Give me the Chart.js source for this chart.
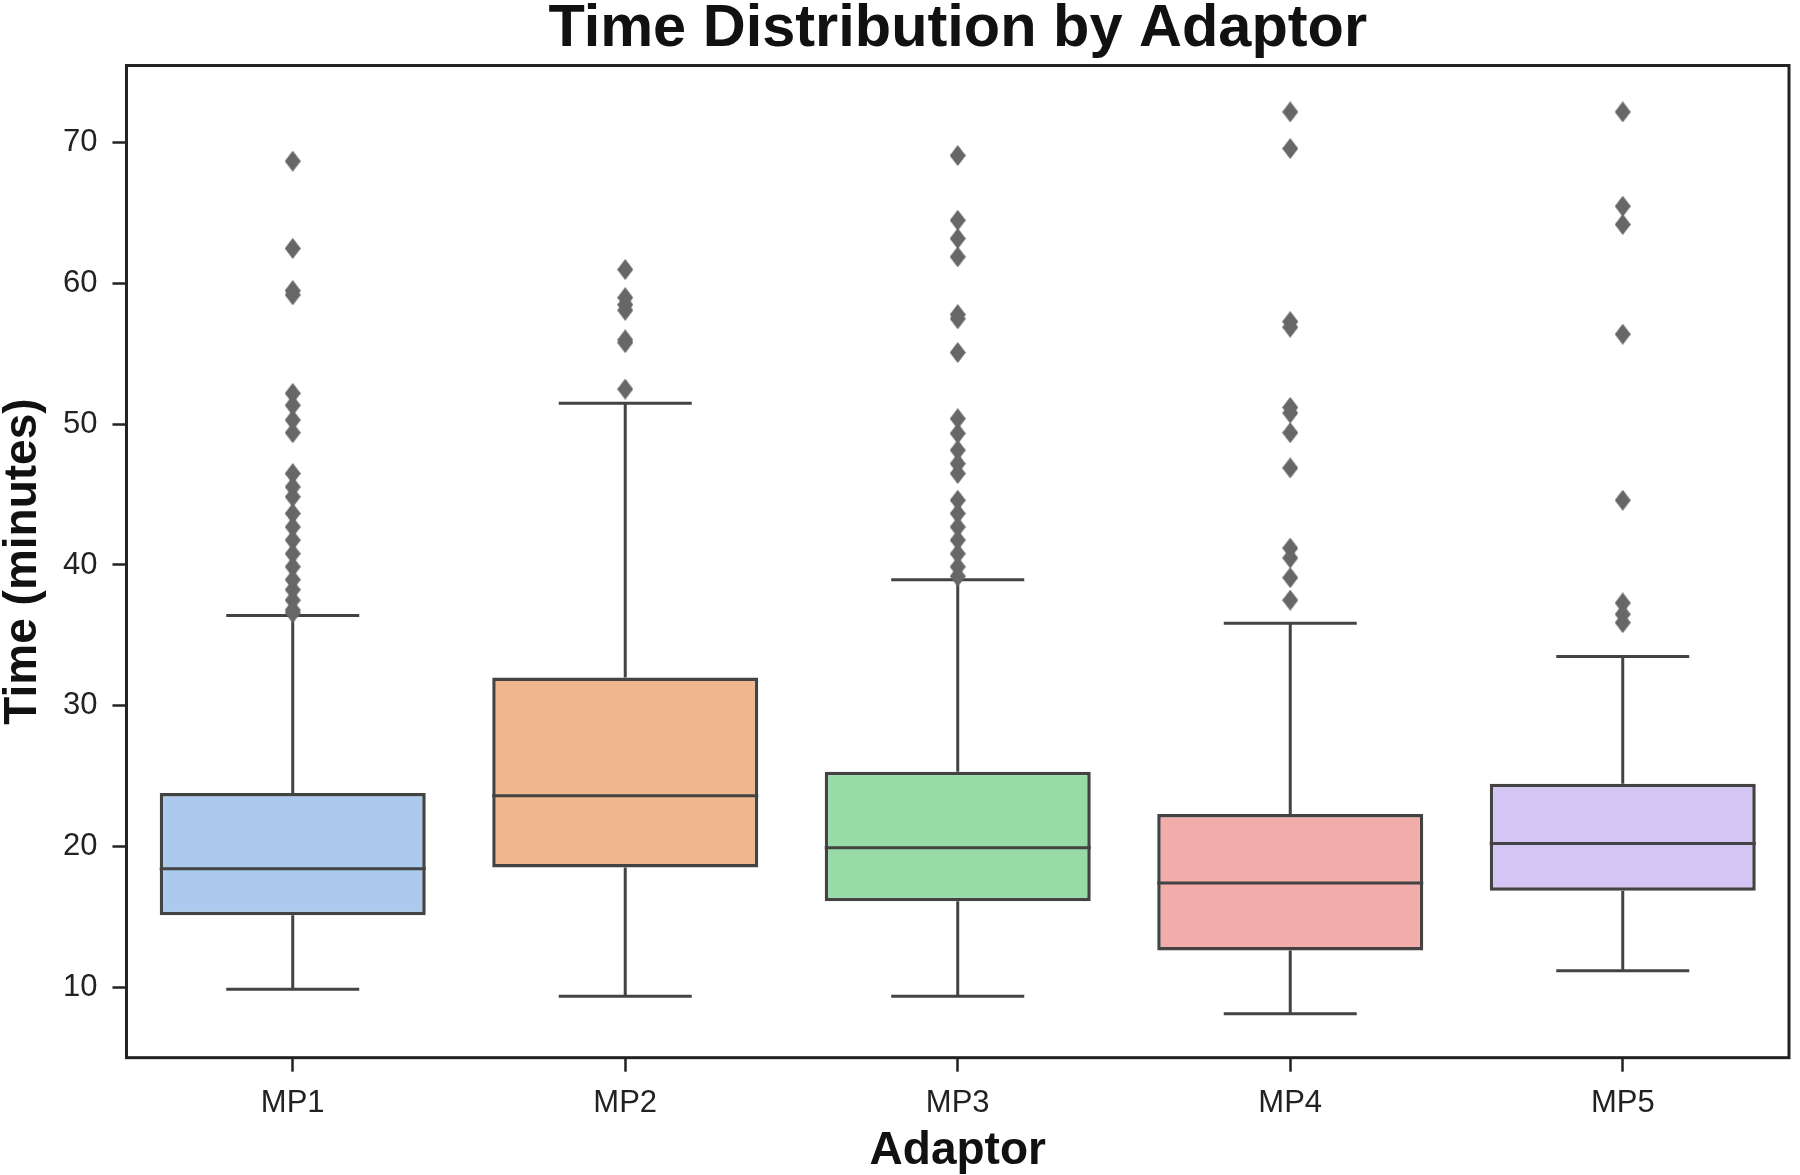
<!DOCTYPE html>
<html>
<head>
<meta charset="utf-8">
<title>Time Distribution by Adaptor</title>
<script src="https://cdn.jsdelivr.net/npm/chart.js@4.4.1/dist/chart.umd.min.js"></script>
<style>
  html, body { margin: 0; padding: 0; background: #fff; }
  canvas { display: block; }
</style>
</head>
<body>
<canvas id="box-chart" width="1800" height="1175"></canvas>
<script>
// ─── Data ─────────────────────────────────────────────────────────────────────
const categories  = ['MP1', 'MP2', 'MP3', 'MP4', 'MP5'];
const whiskerLow  = [9.85, 9.35, 9.35, 8.1, 11.15];
const q1          = [15.1, 18.5, 16.1, 12.6, 16.85];
const median      = [18.4, 23.6, 19.9, 17.4, 20.2];
const q3          = [23.8, 32.0, 25.3, 22.3, 24.45];
const whiskerHigh = [36.4, 51.5, 38.95, 35.85, 33.5];

const outliersMP1 = [68.7, 62.5, 59.5, 59.2, 52.2, 51.35, 50.3, 49.4,
  46.5, 45.55, 44.84, 43.66, 42.7, 41.77, 40.8, 39.87, 38.95, 38.24, 37.5, 36.8, 36.6];
const outliersMP2 = [61.0, 59.0, 58.5, 58.1, 56.0, 55.8, 52.5];
const outliersMP3 = [69.1, 64.5, 63.2, 61.9, 57.8, 57.5, 55.1,
  50.4, 49.35, 48.16, 47.2, 46.5, 44.6, 43.66, 42.7, 41.77, 40.8, 39.87, 39.2];
const outliersMP4 = [72.2, 69.6, 57.3, 56.9, 51.2, 50.8, 49.4, 46.9, 41.2, 40.5, 39.1, 37.5];
const outliersMP5 = [72.2, 65.5, 64.2, 56.4, 44.6, 37.3, 36.5, 35.9];
const outliers    = [outliersMP1, outliersMP2, outliersMP3, outliersMP4, outliersMP5];

const yTicks = [10, 20, 30, 40, 50, 60, 70];
const yMin = 4.98;
const yMax = 75.5;

// ─── Styling ──────────────────────────────────────────────────────────────────
const FONT      = 'Liberation Sans, Arial, Helvetica, sans-serif';
const BOX_FILL  = ['#abcaee', '#f0b78f', '#98dba7', '#f2adab', '#d3c6f5'];
const LINE_GRAY = '#434343';
const AXIS_INK  = '#222222';
const DOT_GRAY  = '#676767';

// thin diamond marker (seaborn 'd') as an image point style
function thinDiamond(w, h, color) {
  const c = document.createElement('canvas');
  c.width = w; c.height = h;
  const g = c.getContext('2d');
  g.fillStyle = color;
  g.beginPath();
  g.moveTo(w / 2, 0);
  g.lineTo(w, h / 2);
  g.lineTo(w / 2, h);
  g.lineTo(0, h / 2);
  g.closePath();
  g.fill();
  return c;
}

// ─── Build datasets from the arrays ──────────────────────────────────────────
const boxData = categories.map((c, i) => ({ x: i, y: [q1[i], q3[i]] }));

// whiskers + caps as one broken line (null y = gap)
const whiskerData = [];
categories.forEach((c, i) => {
  whiskerData.push({ x: i, y: whiskerLow[i] }, { x: i, y: q1[i] }, { x: i, y: null });
  whiskerData.push({ x: i, y: q3[i] }, { x: i, y: whiskerHigh[i] }, { x: i, y: null });
  whiskerData.push({ x: i - 0.2, y: whiskerLow[i] }, { x: i + 0.2, y: whiskerLow[i] }, { x: i, y: null });
  whiskerData.push({ x: i - 0.2, y: whiskerHigh[i] }, { x: i + 0.2, y: whiskerHigh[i] }, { x: i, y: null });
});

const medianData = [];
categories.forEach((c, i) => {
  medianData.push({ x: i - 0.4, y: median[i] }, { x: i + 0.4, y: median[i] }, { x: i, y: null });
});

const outlierData = [];
outliers.forEach((list, i) => list.forEach(v => outlierData.push({ x: i, y: v })));

// frame around the plot area (matplotlib-style spines)
const framePlugin = {
  id: 'frame',
  afterDraw(chart) {
    const { ctx, chartArea: a } = chart;
    ctx.save();
    ctx.strokeStyle = AXIS_INK;
    ctx.lineWidth = 3;
    ctx.strokeRect(a.left, a.top, a.right - a.left, a.bottom - a.top);
    ctx.restore();
  }
};

// ─── Chart ───────────────────────────────────────────────────────────────────
new Chart(document.getElementById('box-chart'), {
  type: 'bar',
  data: {
    datasets: [
      {
        type: 'scatter',
        data: outlierData,
        order: 1,
        pointStyle: thinDiamond(16, 21, DOT_GRAY),
        pointRadius: 10,
      },
      {
        type: 'line',
        data: medianData,
        order: 2,
        borderColor: LINE_GRAY,
        borderWidth: 3,
        pointRadius: 0,
        spanGaps: false,
        fill: false,
      },
      {
        type: 'line',
        data: whiskerData,
        order: 3,
        borderColor: LINE_GRAY,
        borderWidth: 3,
        pointRadius: 0,
        spanGaps: false,
        fill: false,
      },
      {
        type: 'bar',
        data: boxData,
        order: 4,
        backgroundColor: BOX_FILL,
        borderColor: LINE_GRAY,
        borderWidth: 3.5,
        borderSkipped: false,
        barPercentage: 0.8,
        categoryPercentage: 1.0,
        grouped: false,
      },
    ],
  },
  options: {
    responsive: false,
    animation: false,
    devicePixelRatio: 1,
    layout: { padding: { left: 0, right: -5, top: 0, bottom: 7 } },
    plugins: {
      legend: { display: false },
      tooltip: { enabled: false },
      title: {
        display: true,
        fullSize: false,
        text: 'Time Distribution by Adaptor',
        color: '#111',
        font: { family: FONT, size: 59.5, weight: 'bold', lineHeight: 1.0 },
        padding: { top: 0, bottom: 6 },
      },
    },
    scales: {
      x: {
        type: 'linear',
        min: -0.5,
        max: 4.5,
        offset: false,
        afterBuildTicks: axis => { axis.ticks = categories.map((c, i) => ({ value: i })); },
        ticks: {
          callback: v => categories[v],
          color: AXIS_INK,
          font: { family: FONT, size: 31 },
          padding: 13,
          maxRotation: 0,
        },
        grid: {
          offset: false,
          drawOnChartArea: false,
          drawTicks: true,
          tickLength: 14,
          tickWidth: 2.5,
          tickColor: AXIS_INK,
        },
        border: { display: false },
        title: {
          display: true,
          text: 'Adaptor',
          color: '#111',
          font: { family: FONT, size: 46, weight: 'bold', lineHeight: 0.72 },
          padding: { top: 0, bottom: 0 },
        },
      },
      y: {
        type: 'linear',
        min: yMin,
        max: yMax,
        afterBuildTicks: axis => { axis.ticks = yTicks.map(v => ({ value: v })); },
        ticks: {
          color: AXIS_INK,
          font: { family: FONT, size: 31 },
          padding: 15,
        },
        grid: {
          drawOnChartArea: false,
          drawTicks: true,
          tickLength: 14,
          tickWidth: 2.5,
          tickColor: AXIS_INK,
        },
        border: { display: false },
        title: {
          display: true,
          text: 'Time (minutes)',
          color: '#111',
          font: { family: FONT, size: 46, weight: 'bold', lineHeight: 1.0 },
          padding: { top: 0, bottom: 2 },
        },
      },
    },
  },
  plugins: [framePlugin],
});
</script>
</body>
</html>
